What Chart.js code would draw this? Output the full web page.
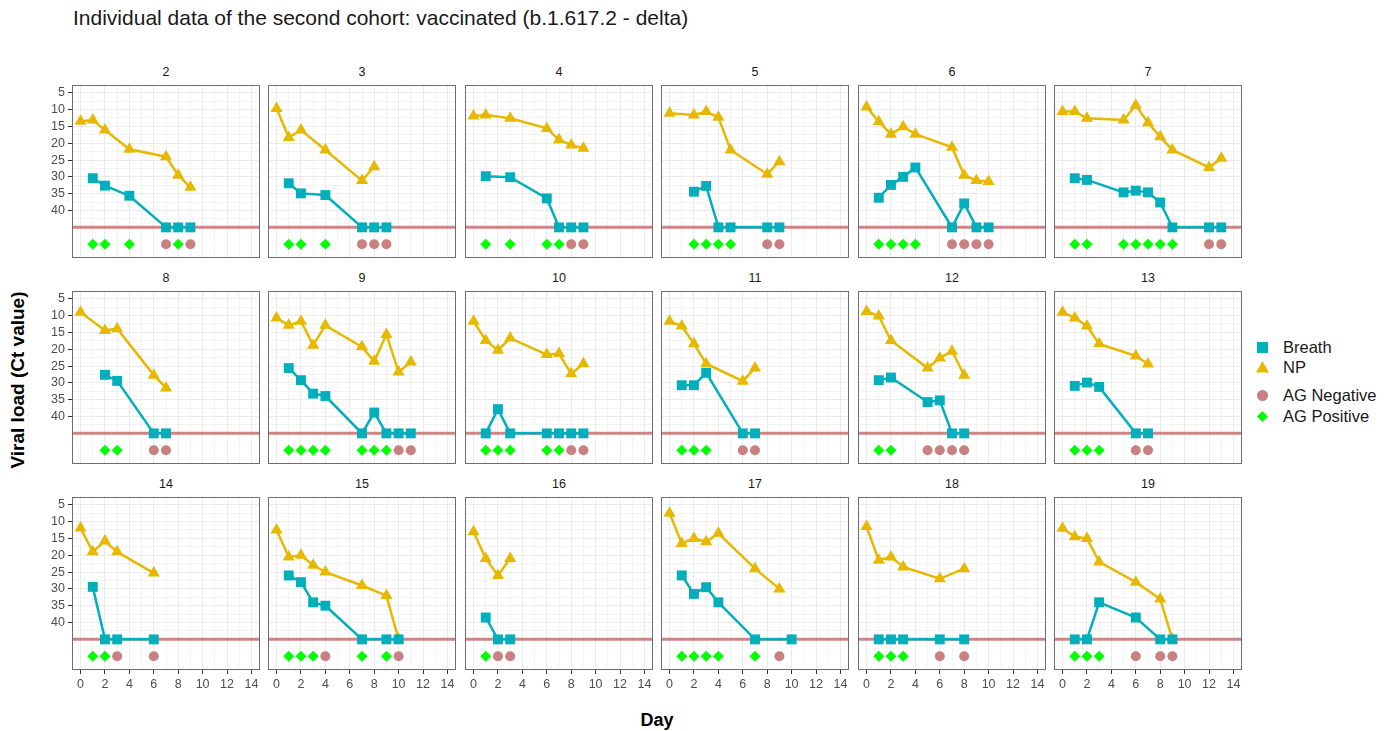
<!DOCTYPE html>
<html>
<head>
<meta charset="utf-8">
<script src="https://cdn.jsdelivr.net/npm/chart.js@4.4.1/dist/chart.umd.min.js"></script>
<style>
  body { margin: 0; background: #fff; font-family: "Liberation Sans", Arial, sans-serif; }
  #page { position: relative; width: 1400px; height: 731px; overflow: hidden; background: #fff; }
  .panel { position: absolute; }
  .strip { position: absolute; width: 188px; text-align: center; font-size: 12.5px; color: #1a1a1a; }
  #title { position: absolute; left: 73px; top: 6px; font-size: 21px; color: #1a1a1a; }
  #ytitle { position: absolute; left: 18px; top: 380px; font-size: 19px; font-weight: bold; color: #000;
            transform: translate(-50%, -50%) rotate(-90deg); white-space: nowrap; }
  #xtitle { position: absolute; left: 657px; top: 720px; font-size: 18px; font-weight: bold; color: #000;
            transform: translate(-50%, -50%); }
  .leg { position: absolute; left: 1255px; font-size: 16.5px; color: #1a1a1a; display: flex; align-items: center; }
  .leg svg { margin-right: 13px; }
</style>
</head>
<body>
<div id="page">
  <div id="title">Individual data of the second cohort: vaccinated (b.1.617.2 - delta)</div>
  <div id="ytitle">Viral load (Ct value)</div>
  <div id="xtitle">Day</div>
</div>
<script>
// participant ids, one facet each
const ids = ['2', '3', '4', '5', '6', '7', '8', '9', '10', '11', '12', '13', '14', '15', '16', '17', '18', '19'];

// NP swab Ct values (45 = negative)
const npDays = [
  [0, 1, 2, 4, 7, 8, 9], [0, 1, 2, 4, 7, 8], [0, 1, 3, 6, 7, 8, 9], [0, 2, 3, 4, 5, 8, 9],
  [0, 1, 2, 3, 4, 7, 8, 9, 10], [0, 1, 2, 5, 6, 7, 8, 9, 12, 13],
  [0, 2, 3, 6, 7], [0, 1, 2, 3, 4, 7, 8, 9, 10, 11], [0, 1, 2, 3, 6, 7, 8, 9], [0, 1, 2, 3, 6, 7],
  [0, 1, 2, 5, 6, 7, 8], [0, 1, 2, 3, 6, 7],
  [0, 1, 2, 3, 6], [0, 1, 2, 3, 4, 7, 9, 10], [0, 1, 2, 3], [0, 1, 2, 3, 4, 7, 9], [0, 1, 2, 3, 6, 8], [0, 1, 2, 3, 6, 8, 9]
];
const npCt = [
  [13.5, 13.1, 16.1, 21.8, 24, 29.5, 33.1], [9.7, 18.3, 16.1, 22, 31.1, 27], [11.9, 11.6, 12.6, 15.6, 19, 20.5, 21.5],
  [11.1, 11.6, 10.6, 12.3, 22, 29.2, 25.5], [9.2, 13.6, 17.3, 15.1, 17.3, 21.2, 29.5, 31.1, 31.4],
  [10.6, 10.6, 12.6, 13.1, 8.7, 13.9, 18.1, 22, 27.2, 24.5],
  [9, 14.4, 13.9, 27.7, 31.5], [10.7, 12.9, 11.7, 18.8, 12.9, 19.3, 23.6, 15.6, 26.8, 23.8],
  [11.7, 17.4, 20.3, 16.7, 21.6, 21.3, 27.3, 24.3], [11.7, 13.1, 18.4, 24.3, 29.5, 25.6],
  [8.8, 10.1, 17.4, 25.6, 22.6, 20.6, 27.7], [9, 10.7, 13.1, 18.4, 22, 24.4],
  [11.9, 19, 15.8, 19, 25.3], [12.5, 20.5, 20, 23, 25, 29, 32, 45], [13, 21, 26, 21],
  [7.5, 16.5, 15, 16, 13.5, 24, 30], [11.5, 21.5, 20.5, 23.5, 27, 24], [12, 14.5, 15, 22, 28, 33, 45]
];

// breath Ct values (45 = negative)
const breathDays = [
  [1, 2, 4, 7, 8, 9], [1, 2, 4, 7, 8, 9], [1, 3, 6, 7, 8, 9], [2, 3, 4, 5, 8, 9],
  [1, 2, 3, 4, 7, 8, 9, 10], [1, 2, 5, 6, 7, 8, 9, 12, 13],
  [2, 3, 6, 7], [1, 2, 3, 4, 7, 8, 9, 10, 11], [1, 2, 3, 6, 7, 8, 9], [1, 2, 3, 6, 7],
  [1, 2, 5, 6, 7, 8], [1, 2, 3, 6, 7],
  [1, 2, 3, 6], [1, 2, 3, 4, 7, 9, 10], [1, 2, 3], [1, 2, 3, 4, 7, 10], [1, 2, 3, 6, 8], [1, 2, 3, 6, 8, 9]
];
const breathCt = [
  [30.4, 32.6, 35.6, 45, 45, 45], [31.9, 34.9, 35.4, 45, 45, 45], [29.8, 30.1, 36.4, 45, 45, 45],
  [34.4, 32.7, 45, 45, 45, 45], [36.2, 32.4, 30, 27.2, 45, 37.9, 45, 45],
  [30.4, 30.9, 34.6, 34.1, 34.6, 37.6, 45, 45, 45],
  [27.6, 29.4, 45, 45], [25.6, 29.2, 33.2, 33.9, 45, 38.8, 45, 45, 45], [45, 37.8, 45, 45, 45, 45, 45],
  [30.7, 30.7, 27, 45, 45], [29.2, 28.4, 35.7, 35.2, 45, 45], [30.9, 29.9, 31.2, 45, 45],
  [29.4, 45, 45, 45], [26, 28, 34, 35, 45, 45, 45], [38.5, 45, 45],
  [26, 31.5, 29.5, 34, 45, 45], [45, 45, 45, 45, 45], [45, 45, 34, 38.5, 45, 45]
];

// antigen test days
const agPosDays = [
  [1, 2, 4, 8], [1, 2, 4], [1, 3, 6, 7], [2, 3, 4, 5], [1, 2, 3, 4], [1, 2, 5, 6, 7, 8, 9],
  [2, 3], [1, 2, 3, 4, 7, 8, 9], [1, 2, 3, 6, 7], [1, 2, 3], [1, 2], [1, 2, 3],
  [1, 2], [1, 2, 3, 7, 9], [1], [1, 2, 3, 4, 7], [1, 2, 3], [1, 2, 3]
];
const agNegDays = [
  [7, 9], [7, 8, 9], [8, 9], [8, 9], [7, 8, 9, 10], [12, 13],
  [6, 7], [10, 11], [8, 9], [6, 7], [5, 6, 7, 8], [6, 7],
  [3, 6], [4, 10], [2, 3], [9], [6, 8], [6, 8, 9]
];

const dayTicks = [0, 1, 2, 3, 4, 5, 6, 7, 8, 9, 10, 11, 12, 13, 14];
const ctTicks = [5, 7.5, 10, 12.5, 15, 17.5, 20, 22.5, 25, 27.5, 30, 32.5, 35, 37.5, 40, 42.5, 45];
const NEG_CUTOFF = 45;  // Ct used for negative samples
const AG_ROW = 50;      // where antigen results are plotted

const C_BREATH = '#00AFBB', C_NP = '#E7B800', C_NEG = '#C98080', C_POS = '#00FF00';

const COL_X0 = 72, COL_STEP = 196.4, ROW_Y0 = 85, ROW_STEP = 206;
const PLOT_W = 188, PLOT_H = 173, Y_LAB_W = 40, X_LAB_H = 24;

const isMajorCt = v => v % 5 === 0 && v <= 40;
const noPad = s => { s.paddingTop = 0; s.paddingBottom = 0; s.paddingLeft = 0; s.paddingRight = 0; };

const panelBox = {
  id: 'panelBox',
  beforeDatasetsDraw(chart) {
    const { ctx, chartArea: a, scales } = chart;
    const y = scales.y.getPixelForValue(NEG_CUTOFF);
    ctx.save();
    ctx.strokeStyle = 'rgba(200,112,112,0.85)';
    ctx.lineWidth = 3;
    ctx.beginPath();
    ctx.moveTo(a.left, y);
    ctx.lineTo(a.right, y);
    ctx.stroke();
    ctx.restore();
  },
  afterDraw(chart) {
    const { ctx, chartArea: a } = chart;
    ctx.save();
    ctx.strokeStyle = '#6e6e6e';
    ctx.lineWidth = 1;
    ctx.strokeRect(a.left + 0.5, a.top + 0.5, a.right - a.left - 1, a.bottom - a.top - 1);
    ctx.restore();
  }
};

const page = document.getElementById('page');

ids.forEach((id, i) => {
  const r = Math.floor(i / 6), c = i % 6;
  const firstCol = c === 0, lastRow = r === 2;
  const padL = firstCol ? Y_LAB_W : 0;
  const padB = lastRow ? X_LAB_H : 0;
  const left = Math.round(COL_X0 + c * COL_STEP);
  const top = ROW_Y0 + r * ROW_STEP;

  const strip = document.createElement('div');
  strip.className = 'strip';
  strip.style.left = left + 'px';
  strip.style.top = (top - 20) + 'px';
  strip.textContent = id;
  page.appendChild(strip);

  const box = document.createElement('div');
  box.className = 'panel';
  box.style.left = (left - padL) + 'px';
  box.style.top = top + 'px';
  const cv = document.createElement('canvas');
  cv.width = PLOT_W + padL;
  cv.height = PLOT_H + padB;
  box.appendChild(cv);
  page.appendChild(box);

  const pts = (xs, ys) => xs.map((d, k) => ({ x: d, y: ys ? ys[k] : AG_ROW }));

  new Chart(cv, {
    type: 'scatter',
    data: {
      datasets: [
        { label: 'AG Negative', data: pts(agNegDays[i]), pointStyle: 'circle', pointRadius: 5,
          backgroundColor: C_NEG, pointBorderWidth: 0, order: 0 },
        { label: 'AG Positive', data: pts(agPosDays[i]), pointStyle: 'rectRot', pointRadius: 5.5,
          backgroundColor: C_POS, pointBorderWidth: 0, order: 0 },
        { label: 'Breath', data: pts(breathDays[i], breathCt[i]), showLine: true, borderColor: C_BREATH,
          borderWidth: 2.5, pointStyle: 'rect', pointRadius: 7, backgroundColor: C_BREATH,
          pointBorderWidth: 0, order: 1 },
        { label: 'NP', data: pts(npDays[i], npCt[i]), showLine: true, borderColor: C_NP,
          borderWidth: 2.5, pointStyle: 'triangle', pointRadius: 7, backgroundColor: C_NP,
          pointBorderWidth: 0, order: 2 }
      ]
    },
    options: {
      responsive: false,
      animation: false,
      events: [],
      layout: { padding: 0, autoPadding: false },
      plugins: { legend: { display: false }, tooltip: { enabled: false } },
      scales: {
        x: {
          type: 'linear', min: -0.7, max: 14.7,
          afterBuildTicks: s => { s.ticks = dayTicks.map(v => ({ value: v })); },
          afterFit: s => { s.height = padB; noPad(s); },
          ticks: { display: lastRow, autoSkip: false, maxRotation: 0, padding: 3, color: '#4d4d4d',
                   font: { size: 12.5, family: '"Liberation Sans", Arial, sans-serif' },
                   callback: v => (v % 2 === 0 ? v : '') },
          grid: { color: ctx => (ctx.tick && ctx.tick.value % 2 === 0 ? '#ebebeb' : '#f3f3f3'),
                  lineWidth: 1, drawTicks: lastRow, tickLength: 4,
                  tickColor: ctx => (ctx.tick && ctx.tick.value % 2 === 0 ? '#333' : 'rgba(0,0,0,0)') },
          border: { display: false }
        },
        y: {
          type: 'linear', reverse: true, min: 2.7, max: 54.1,
          afterBuildTicks: s => { s.ticks = ctTicks.map(v => ({ value: v })); },
          afterFit: s => { s.width = padL; noPad(s); },
          ticks: { display: firstCol, autoSkip: false, padding: 3, color: '#4d4d4d',
                   font: { size: 12.5, family: '"Liberation Sans", Arial, sans-serif' },
                   callback: v => (isMajorCt(v) ? v : '') },
          grid: { color: ctx => (ctx.tick && isMajorCt(ctx.tick.value) ? '#ebebeb' : '#f3f3f3'),
                  lineWidth: 1, drawTicks: firstCol, tickLength: 4,
                  tickColor: ctx => (ctx.tick && isMajorCt(ctx.tick.value) ? '#333' : 'rgba(0,0,0,0)') },
          border: { display: false }
        }
      }
    },
    plugins: [panelBox]
  });
});

// legend
const legendItems = [
  { label: 'Breath', y: 348, svg: `<rect x="2" y="2" width="11" height="11" fill="${C_BREATH}"/>` },
  { label: 'NP', y: 368, svg: `<polygon points="7.5,1 14,12.5 1,12.5" fill="${C_NP}"/>` },
  { label: 'AG Negative', y: 396, svg: `<circle cx="7.5" cy="7.5" r="5.5" fill="${C_NEG}"/>` },
  { label: 'AG Positive', y: 417, svg: `<polygon points="7.5,2 13,7.5 7.5,13 2,7.5" fill="${C_POS}"/>` }
];
legendItems.forEach(it => {
  const d = document.createElement('div');
  d.className = 'leg';
  d.style.top = (it.y - 10) + 'px';
  d.innerHTML = `<svg width="15" height="15">${it.svg}</svg><span>${it.label}</span>`;
  page.appendChild(d);
});
</script>
</body>
</html>
